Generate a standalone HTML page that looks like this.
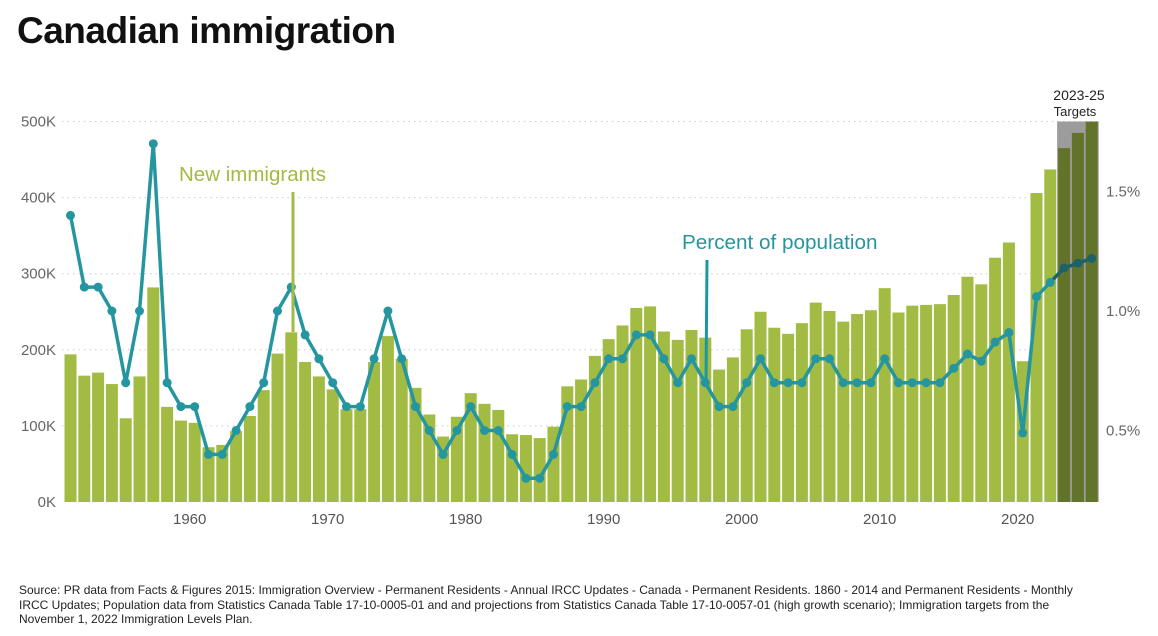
<!DOCTYPE html>
<html><head><meta charset="utf-8"><style>
body{margin:0;background:#fff;font-family:"Liberation Sans",sans-serif;}
#wrap{position:relative;width:1158px;height:636px;overflow:hidden;}
h1{position:absolute;left:17px;top:10px;margin:0;font-size:37px;font-weight:bold;letter-spacing:-0.5px;color:#111;}
#src{position:absolute;left:19px;top:583px;width:1062px;font-size:12px;line-height:14.5px;color:#222;}
</style></head><body>
<div id="wrap">
<h1>Canadian immigration</h1>
<svg id="chart" width="1158" height="580" style="position:absolute;left:0;top:0"></svg>
<div id="src">Source: PR data from Facts &amp; Figures 2015: Immigration Overview - Permanent Residents - Annual IRCC Updates - Canada - Permanent Residents. 1860 - 2014 and Permanent Residents - Monthly IRCC Updates; Population data from Statistics Canada Table 17-10-0005-01 and and projections from Statistics Canada Table 17-10-0057-01 (high growth scenario); Immigration targets from the November 1, 2022 Immigration Levels Plan.</div>
</div>
<script>
const years=[];for(let y=1951;y<=2025;y++)years.push(y);
const immigrants=[194,166,170,155,110,165,282,125,107,104,72,75,93,113,147,195,223,184,165,148,122,122,184,218,188,150,115,86,112,143,129,121,89,88,84,99,152,161,192,214,232,255,257,224,213,226,216,174,190,227,250,229,221,235,262,251,237,247,252,281,249,258,259,260,272,296,286,321,341,185,406,437,465,485,500];
const percent=[1.40,1.10,1.10,1.00,0.70,1.00,1.70,0.70,0.60,0.60,0.40,0.40,0.50,0.60,0.70,1.00,1.10,0.90,0.80,0.70,0.60,0.60,0.80,1.00,0.80,0.60,0.50,0.40,0.50,0.60,0.50,0.50,0.40,0.30,0.30,0.40,0.60,0.60,0.70,0.80,0.80,0.90,0.90,0.80,0.70,0.80,0.70,0.60,0.60,0.70,0.80,0.70,0.70,0.70,0.80,0.80,0.70,0.70,0.70,0.80,0.70,0.70,0.70,0.70,0.76,0.82,0.79,0.87,0.91,0.49,1.06,1.12,1.18,1.20,1.22];
const leftTicks=[0,100,200,300,400,500];
const rightTicks=[0.5,1.0,1.5];
const xTicks=[1960,1970,1980,1990,2000,2010,2020];
const targetStart=2023;

const NS="http://www.w3.org/2000/svg";
const svg=document.getElementById('chart');
const X=y=>70.5+(y-1951)*13.8;
const YL=v=>502-v*0.761;
const YR=p=>550-p*239;
function mk(t,a,p){const e=document.createElementNS(NS,t);for(const k in a)e.setAttribute(k,a[k]);(p||svg).appendChild(e);return e;}

leftTicks.forEach(v=>{
  if(v>0){const g=mk('line',{x1:62,x2:1097,y1:YL(v),y2:YL(v),stroke:'#ccc','stroke-dasharray':'1.5,4'});
  
  }
  const t=mk('text',{x:56,y:YL(v)+5,'text-anchor':'end','font-size':15,fill:'#666'});t.textContent=v+'K';
  
  
});
rightTicks.forEach(p=>{
  const t=mk('text',{x:1106,y:YR(p)+5,'font-size':15,fill:'#666'});t.textContent=p.toFixed(1)+'%';
  
  
});
const tb=mk('rect',{x:X(targetStart)-7,y:YL(500),width:X(2025)-X(targetStart)+14,height:YL(0)-YL(500),fill:'#9c9c9c'});


years.forEach((y,i)=>{
  const b=mk('rect',{x:X(y)-6,y:YL(immigrants[i]),width:12,height:YL(0)-YL(immigrants[i]),fill:y>=targetStart?'#627429':'#a2bb42'});
  
  
});
xTicks.forEach(y=>{
  const t=mk('text',{x:X(y)-5,y:524,'text-anchor':'middle','font-size':15,fill:'#555'});t.textContent=y;
  
  
});
let d='',d2='';
years.forEach((y,i)=>{const pt=X(y)+','+YR(percent[i]);
  if(y<=targetStart-1)d+=(d?'L':'M')+pt;
  if(y>=targetStart-1)d2+=(d2?'L':'M')+pt;});
const l1=mk('path',{d:d,fill:'none',stroke:'#2596a0','stroke-width':3.5,'stroke-linejoin':'round'});


const l2=mk('path',{d:d2,fill:'none',stroke:'#1d6169','stroke-width':3.5});


years.forEach((y,i)=>{
  const c=mk('circle',{cx:X(y),cy:YR(percent[i]),r:4.5,fill:y>=targetStart?'#1d6169':'#2596a0'});
  
  
});
const a1=mk('line',{x1:293,x2:293,y1:192,y2:332,stroke:'#a2bb42','stroke-width':3});


const t1=mk('text',{x:179,y:181,'font-size':20.5,fill:'#a2bb42'});t1.textContent='New immigrants';


const a2=mk('line',{x1:707,x2:706,y1:260,y2:382,stroke:'#1a98a2','stroke-width':3});


const t2=mk('text',{x:682,y:249,'font-size':20.7,fill:'#2596a0'});t2.textContent='Percent of population';


const t3=mk('text',{x:1079,y:100,'text-anchor':'middle','font-size':14,fill:'#222'});t3.textContent='2023-25';


const t4=mk('text',{x:1075,y:116,'text-anchor':'middle','font-size':13,fill:'#222'});t4.textContent='Targets';


</script>
</body></html>
